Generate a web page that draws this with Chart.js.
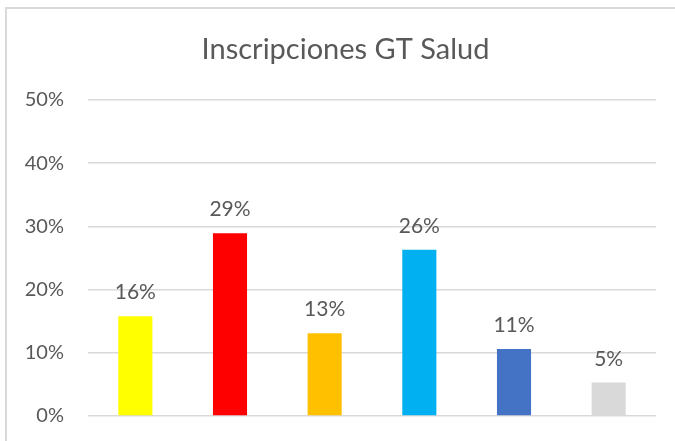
<!DOCTYPE html>
<html>
<head>
<meta charset="utf-8">
<script src="https://cdn.jsdelivr.net/npm/chart.js@4"></script>
<style>
  html, body { margin: 0; padding: 0; background: #fff; }
  #frame { position: absolute; left: 5px; top: 7px; width: 670px; height: 434px;
           border-top: 2px solid #d9d9d9; border-left: 2px solid #d9d9d9; box-sizing: border-box; }
  #myChart { position: absolute; left: 0; top: 0; }
</style>
</head>
<body>
<div id="frame"></div>
<canvas id="myChart" width="675" height="441"></canvas>
<script>
// Datos del gráfico
const titulo = "Inscripciones GT Salud";
const categorias = ["1", "2", "3", "4", "5", "6"];
const valores = [15.8, 28.9, 13.1, 26.3, 10.6, 5.3];
const colores = ["#FFFF00", "#FF0000", "#FFC000", "#00B0F0", "#4472C4", "#D9D9D9"];
const ticksY = [0, 10, 20, 30, 40, 50];

const gris = "#595959";
const fuente = "Lato, 'Open Sans', sans-serif";

// Título y etiquetas encima de cada barra
const etiquetas = {
    id: "etiquetas",
    afterDatasetsDraw(chart) {
        const ctx = chart.ctx;
        const meta = chart.getDatasetMeta(0);
        ctx.save();
        ctx.fillStyle = gris;
        ctx.textAlign = "center";
        ctx.textBaseline = "alphabetic";
        ctx.font = "29px " + fuente;
        ctx.fillText(titulo, chart.width / 2 + 8, 59);
        ctx.font = "21px " + fuente;
        meta.data.forEach((bar, i) => {
            ctx.fillText(Math.round(valores[i]) + "%", bar.x, bar.y - 17);
        });
        ctx.restore();
    }
};

new Chart(document.getElementById("myChart").getContext("2d"), {
    type: "bar",
    data: {
        labels: categorias,
        datasets: [{
            data: valores,
            backgroundColor: colores,
            borderWidth: 0,
            categoryPercentage: 1,
            barPercentage: 0.36
        }]
    },
    options: {
        responsive: false,
        animation: false,
        layout: { padding: { left: 0, right: 19, top: 100, bottom: 25 } },
        plugins: {
            legend: { display: false },
            tooltip: { enabled: false },
            title: { display: false }
        },
        scales: {
            x: { display: false },
            y: {
                min: 0,
                max: 50,
                afterBuildTicks: s => { s.ticks = ticksY.map(v => ({ value: v })); },
                grid: { color: "#d9d9d9", lineWidth: 1.5, drawTicks: true, tickLength: 24, tickColor: "transparent" },
                border: { display: false },
                ticks: {
                    color: gris,
                    padding: 0,
                    font: { family: fuente, size: 20 },
                    callback: v => v + "%"
                },
                afterFit: s => { s.width = 88; }
            }
        }
    },
    plugins: [etiquetas]
});
</script>
</body>
</html>
